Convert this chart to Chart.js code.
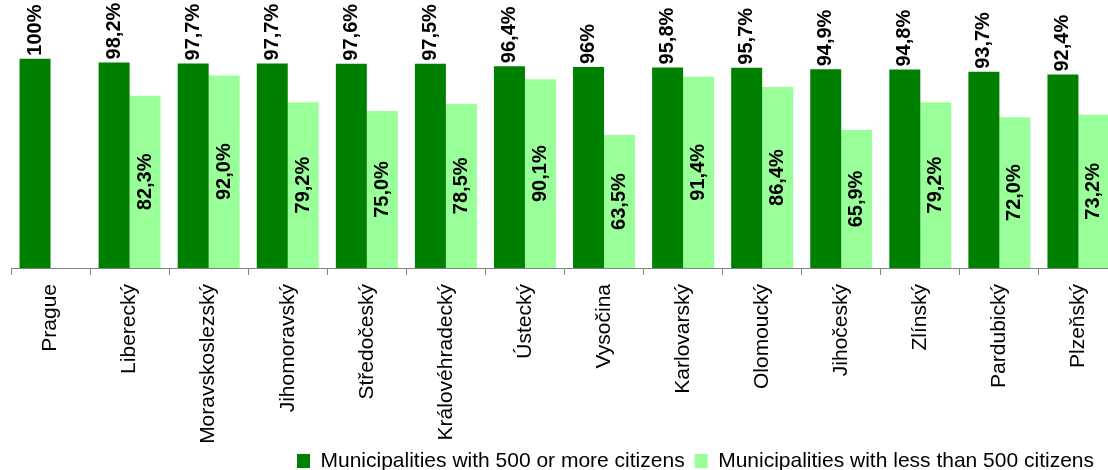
<!DOCTYPE html>
<html lang="en">
<head>
  <meta charset="UTF-8" />
  <title>Municipalities by region</title>
  <script src="https://cdn.jsdelivr.net/npm/chart.js"></script>
  <style>
    html, body { margin: 0; padding: 0; background: #fff; overflow: hidden; }
    #wrap { width: 1108px; height: 470px; overflow: hidden; }
  </style>
</head>
<body>
  <div id="wrap">
    <canvas id="regionChart" width="1130" height="470"></canvas>
  </div>

  <script>
    const regions = ["Prague", "Liberecký", "Moravskoslezský", "Jihomoravský", "Středočeský",
      "Královéhradecký", "Ústecký", "Vysočina", "Karlovarský", "Olomoucký",
      "Jihočeský", "Zlínský", "Pardubický", "Plzeňský"];
    const bigMunicipalities = [100, 98.2, 97.7, 97.7, 97.6, 97.5, 96.4, 96, 95.8, 95.7, 94.9, 94.8, 93.7, 92.4];
    const smallMunicipalities = [null, 82.3, 92.0, 79.2, 75.0, 78.5, 90.1, 63.5, 91.4, 86.4, 65.9, 79.2, 72.0, 73.2];
    const seriesNames = ["Municipalities with 500 or more citizens", "Municipalities with less than 500 citizens"];

    const FONT = "'Liberation Sans', Arial, sans-serif";
    Chart.defaults.color = "#000";
    Chart.defaults.font.family = FONT;

    // comma decimals; whole numbers on the big series have no decimals
    function fmt(v, fixed) {
      const s = (fixed || v % 1 !== 0) ? v.toFixed(1) : String(v);
      return s.replace(".", ",") + "%";
    }

    // vertical value labels: above the dark bars, centred inside the light ones
    const valueLabels = {
      id: "valueLabels",
      afterDatasetsDraw(chart) {
        const ctx = chart.ctx;
        ctx.save();
        ctx.font = "bold 20px " + FONT;
        ctx.fillStyle = "#000";
        ctx.textBaseline = "middle";
        chart.data.datasets.forEach((ds, di) => {
          chart.getDatasetMeta(di).data.forEach((bar, i) => {
            const v = ds.data[i];
            if (v == null) return;
            ctx.save();
            if (di === 0) {
              ctx.translate(bar.x, bar.y - 3);
              ctx.textAlign = "left";
            } else {
              ctx.translate(bar.x, (bar.y + bar.base) / 2);
              ctx.textAlign = "center";
            }
            ctx.rotate(-Math.PI / 2);
            ctx.fillText(fmt(v, di === 1), 0, 0);
            ctx.restore();
          });
        });
        ctx.restore();
      }
    };

    // put the legend at the bottom right under the axis labels
    const legendPlace = {
      id: "legendPlace",
      afterLayout(chart) {
        const lg = chart.legend;
        const pad = lg.options.labels.padding;
        lg.left = 297 - pad;
        lg.top = 461 - pad - 10.5;
      }
    };

    new Chart(document.getElementById("regionChart"), {
      type: "bar",
      data: {
        labels: regions,
        datasets: [
          {
            label: seriesNames[0],
            data: bigMunicipalities,
            backgroundColor: "#008000",
            borderWidth: 0
          },
          {
            label: seriesNames[1],
            data: smallMunicipalities,
            backgroundColor: "#99ff99",
            borderWidth: 0
          }
        ]
      },
      options: {
        responsive: false,
        animation: false,
        // bottom padding below zero lets the long region names run under the legend row
        layout: { padding: { left: 11, right: 12, top: 0, bottom: -20 } },
        datasets: {
          bar: { categoryPercentage: 0.784, barPercentage: 1.0 }
        },
        scales: {
          x: {
            grid: {
              display: true,
              drawOnChartArea: false,
              drawTicks: true,
              tickLength: 7,
              color: "#808080"
            },
            border: { display: true, color: "#808080", width: 1 },
            ticks: {
              autoSkip: false,
              minRotation: 90,
              maxRotation: 90,
              padding: 9,
              font: { size: 21, family: FONT }
            },
            afterFit(scale) { scale.height = 181; }
          },
          y: {
            display: false,
            min: 0,
            max: 128
          }
        },
        plugins: {
          legend: {
            position: "bottom",
            align: "start",
            labels: {
              boxWidth: 13,
              boxHeight: 14,
              padding: 10,
              font: { size: 21, family: FONT }
            }
          },
          tooltip: { enabled: false }
        }
      },
      plugins: [valueLabels, legendPlace]
    });
  </script>
</body>
</html>
